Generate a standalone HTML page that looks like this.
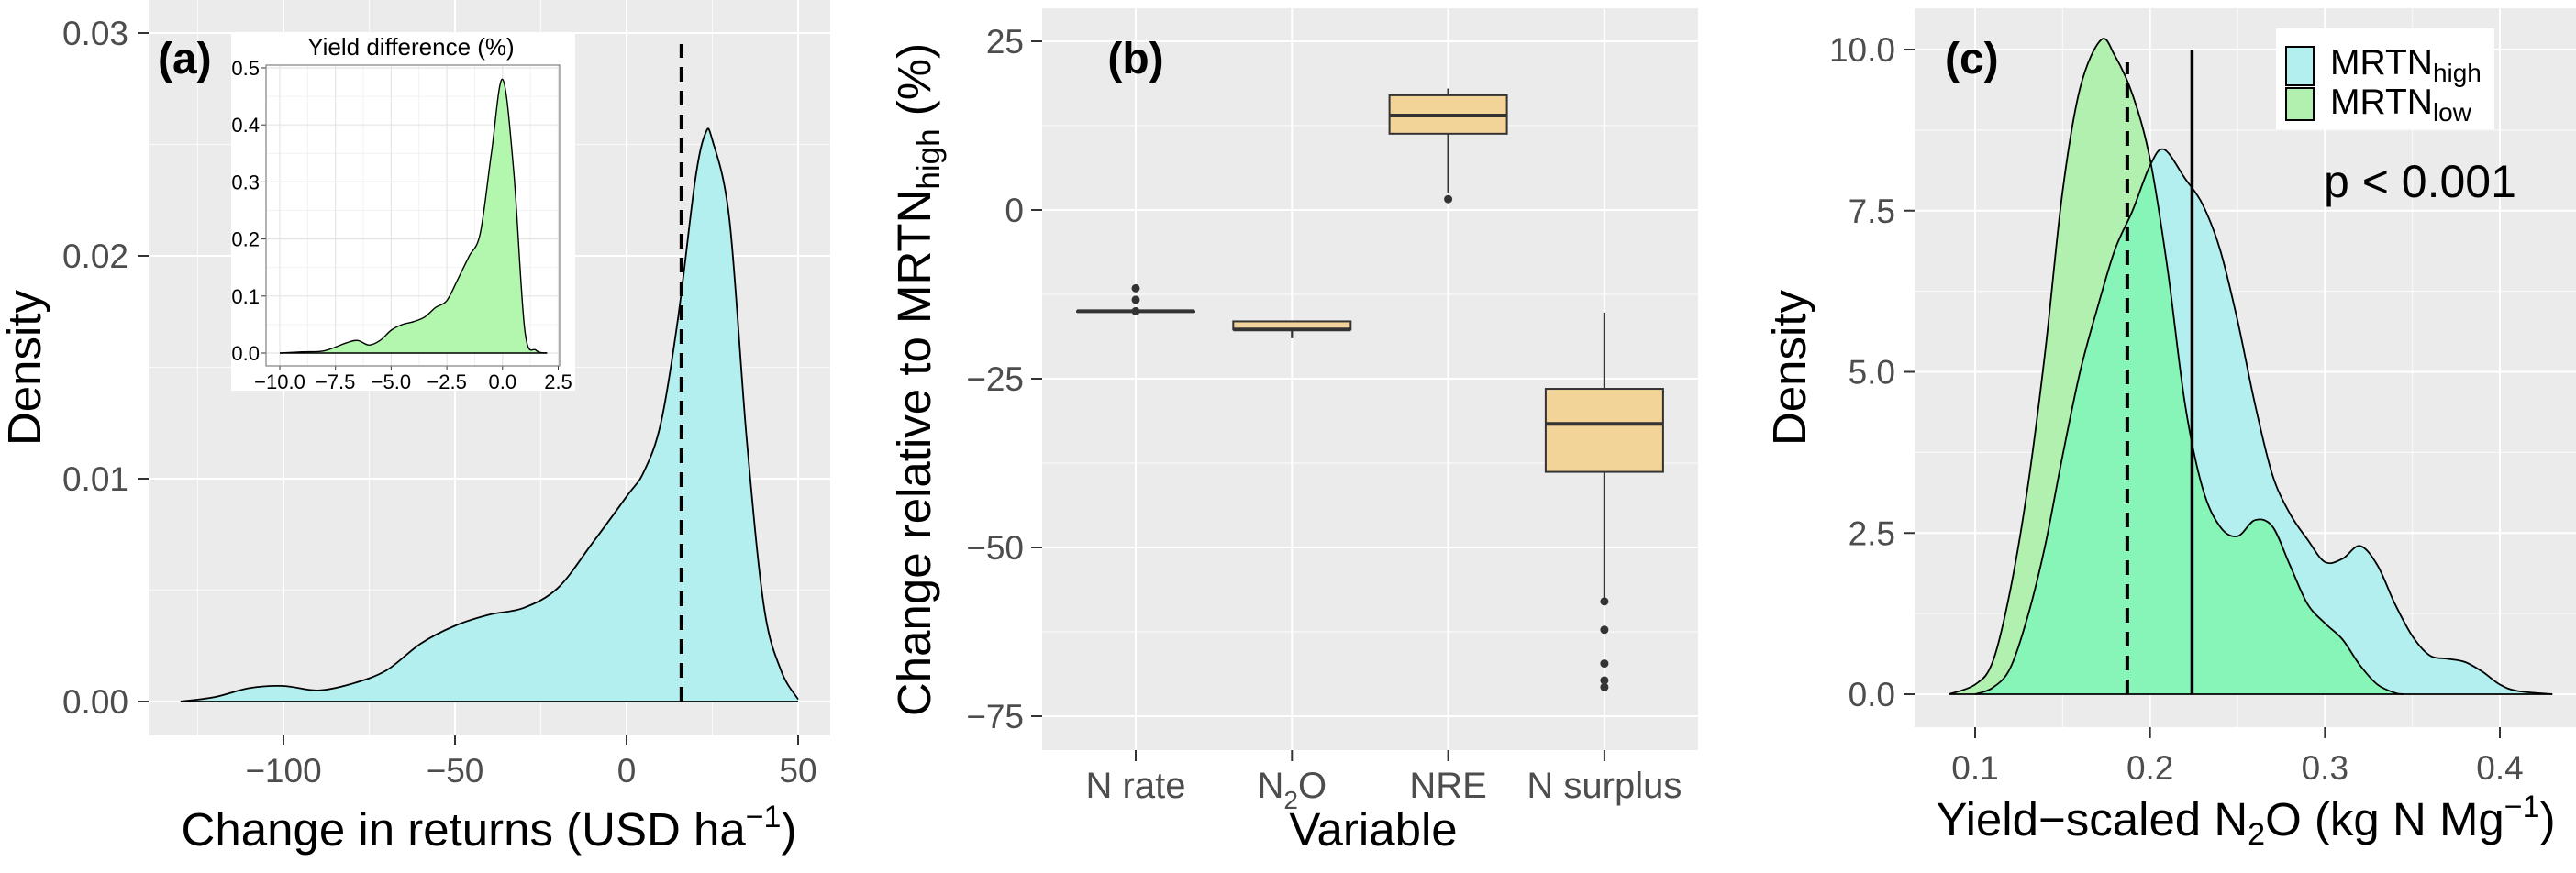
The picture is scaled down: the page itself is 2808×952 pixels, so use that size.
<!DOCTYPE html>
<html><head><meta charset="utf-8"><style>
html,body{margin:0;padding:0;background:#fff;}
svg{display:block;font-family:"Liberation Sans",Arial,sans-serif;}
</style></head><body>
<svg id="s" width="2808" height="952" viewBox="0 0 2808 952" xmlns="http://www.w3.org/2000/svg">
<defs></defs>
</svg>
<script>
// ---- Panel (a) data ----
const aX = [-130,-120,-110,-100,-90,-80,-70,-60,-50,-40,-30,-20,-10,0,5,10,15,20,23,25,30,35,40,45,50];
const aY = [0,0.0002,0.0006,0.0007,0.0005,0.0008,0.0014,0.0026,0.0034,0.0039,0.0042,0.0051,0.0071,0.0092,0.0103,0.0125,0.0172,0.0234,0.0255,0.0252,0.0216,0.0118,0.0043,0.0014,0.0001];
const aMean = 16;
const aXTicks = [-100,-50,0,50];
const aYTicks = [0,0.01,0.02,0.03];
const aYTickLabels = ["0.00","0.01","0.02","0.03"];
// inset
const iX = [-10,-9,-8,-7,-6.5,-6,-5.5,-5,-4.5,-4,-3.5,-3,-2.5,-2,-1.5,-1,-0.5,0,0.5,1,1.5,2];
const iY = [0,0.002,0.004,0.018,0.022,0.014,0.022,0.04,0.05,0.055,0.063,0.08,0.092,0.13,0.17,0.21,0.35,0.48,0.32,0.04,0.005,0];
const iXTicks = [-10,-7.5,-5,-2.5,0,2.5];
const iXTickLabels = ["−10.0","−7.5","−5.0","−2.5","0.0","2.5"];
const iYTicks = [0,0.1,0.2,0.3,0.4,0.5];
const iYTickLabels = ["0.0","0.1","0.2","0.3","0.4","0.5"];
// ---- Panel (b) data ----
const bCats = ["N rate","N2O","NRE","N surplus"];
const bLowWhisker = [-15,-19,2.6,-57.5];
const bQ1 = [-15,-17.7,11.3,-38.8];
const bMedian = [-15,-17.7,14,-31.7];
const bQ3 = [-15,-16.5,17,-26.5];
const bHighWhisker = [-15,-16.5,18,-15.2];
const bOutliers = [[-11.6,-13.3,-15],[],[1.6],[-58,-62.2,-67.2,-69.7,-70.7]];
const bYTicks = [25,0,-25,-50,-75];
const bYTickLabels = ["25","0","−25","−50","−75"];
// ---- Panel (c) data ----
const cLowX = [0.085,0.1,0.11,0.12,0.13,0.14,0.15,0.16,0.172,0.18,0.19,0.2,0.21,0.22,0.23,0.24,0.25,0.26,0.27,0.28,0.29,0.3,0.31,0.32,0.33,0.34,0.345];
const cLowY = [0,0.15,0.5,1.6,3.2,5.3,7.8,9.4,10.15,9.9,9.3,8.3,6.6,4.5,3.2,2.6,2.45,2.7,2.6,2.0,1.4,1.1,0.85,0.45,0.15,0.02,0];
const cHighX = [0.1,0.11,0.12,0.13,0.14,0.15,0.16,0.17,0.18,0.19,0.2,0.208,0.22,0.23,0.24,0.25,0.26,0.27,0.28,0.29,0.3,0.31,0.32,0.33,0.34,0.35,0.36,0.37,0.38,0.39,0.4,0.41,0.43];
const cHighY = [0,0.1,0.4,1.2,2.3,3.7,5.0,6.0,6.9,7.5,8.2,8.45,8.0,7.6,6.9,5.8,4.5,3.4,2.8,2.4,2.05,2.1,2.3,2.0,1.4,0.9,0.6,0.55,0.5,0.35,0.15,0.05,0];
const cLowMean = 0.187, cHighMean = 0.224;
const cXTicks = [0.1,0.2,0.3,0.4];
const cYTicks = [0,2.5,5,7.5,10];
const cYTickLabels = ["0.0","2.5","5.0","7.5","10.0"];

const TF=37;
const NS="http://www.w3.org/2000/svg";
const svg=document.getElementById('s');
function el(tag,attrs,parent){const e=document.createElementNS(NS,tag);for(const k in attrs)e.setAttribute(k,attrs[k]);(parent||svg).appendChild(e);return e;}
function lin(d0,d1,r0,r1){return v=>r0+(v-d0)*(r1-r0)/(d1-d0);}
function smoothPath(xs,ys,sx,sy){
  const p=xs.map((x,i)=>[sx(x),sy(ys[i])]);
  let d=`M${p[0][0]},${p[0][1]}`;
  for(let i=0;i<p.length-1;i++){
    const p0=p[Math.max(0,i-1)],p1=p[i],p2=p[i+1],p3=p[Math.min(p.length-1,i+2)];
    const c1=[p1[0]+(p2[0]-p0[0])/6,p1[1]+(p2[1]-p0[1])/6];
    const c2=[p2[0]-(p3[0]-p1[0])/6,p2[1]-(p3[1]-p1[1])/6];
    d+=` C${c1[0]},${c1[1]} ${c2[0]},${c2[1]} ${p2[0]},${p2[1]}`;
  }
  return d;
}
function txt(x,y,s,attrs,parent){const t=el('text',Object.assign({x:x,y:y},attrs),parent);t.textContent=s;return t;}

// ================= Panel (a) =================
const gA=el('g',{});


const ax=lin(0,50,683,870), ay=lin(0,0.01,765,522);
const aBg=el('rect',{x:162,y:0,width:743,height:802,fill:'#ebebeb'},gA);

[-125,-75,-25,25].forEach(v=>el('line',{x1:ax(v),x2:ax(v),y1:0,y2:802,stroke:'#fff','stroke-width':1.2,opacity:0.7},gA));
[0.005,0.015,0.025].forEach(v=>el('line',{x1:162,x2:905,y1:ay(v),y2:ay(v),stroke:'#fff','stroke-width':1.2,opacity:0.7},gA));
aXTicks.forEach(v=>{el('line',{x1:ax(v),x2:ax(v),y1:0,y2:802,stroke:'#fff','stroke-width':2},gA);
  el('line',{x1:ax(v),x2:ax(v),y1:802,y2:812,stroke:'#333','stroke-width':2},gA);
  const t=txt(ax(v),853,String(v).replace('-','−'),{'font-size':TF,fill:'#4d4d4d','text-anchor':'middle'},gA);
  });
aYTicks.forEach((v,i)=>{el('line',{x1:162,x2:905,y1:ay(v),y2:ay(v),stroke:'#fff','stroke-width':2},gA);
  el('line',{x1:150,x2:162,y1:ay(v),y2:ay(v),stroke:'#333','stroke-width':2},gA);
  const t=txt(140,ay(v)+13,aYTickLabels[i],{'font-size':TF,fill:'#4d4d4d','text-anchor':'end'},gA);
  });
const aArea=el('path',{d:smoothPath(aX,aY,ax,ay)+` L${ax(50)},${ay(0)} L${ax(-130)},${ay(0)} Z`,fill:'#b3efef',stroke:'none'},gA);

const aLine=el('path',{d:smoothPath(aX,aY,ax,ay),fill:'none',stroke:'#000','stroke-width':1.8},gA);

el('line',{x1:ax(-130),x2:ax(50),y1:ay(0),y2:ay(0),stroke:'#000','stroke-width':1.8},gA);
const aMeanL=el('line',{x1:ax(aMean),x2:ax(aMean),y1:ay(0),y2:48,stroke:'#000','stroke-width':4,'stroke-dasharray':'16,10'},gA);

const aLab=txt(172,80,'(a)',{'font-size':48,'font-weight':'bold',fill:'#000'},gA);

const aYT=txt(0,0,'Density',{'font-size':51,fill:'#000','text-anchor':'middle',transform:'translate(44,401) rotate(-90)'},gA);

const aXT=el('text',{x:533,y:922,'font-size':51,fill:'#000','text-anchor':'middle'},gA);
aXT.innerHTML='Change in returns (USD ha<tspan font-size="34" dy="-20">−1</tspan><tspan dy="20">)</tspan>';


// inset
const gI=el('g',{},gA);

el('rect',{x:252,y:37,width:375,height:389,fill:'#fff'},gI);
const ix=lin(-10,2.5,305,608.5), iy=lin(0,0.5,385,74);
[-8.75,-6.25,-3.75,-1.25,1.25].forEach(v=>el('line',{x1:ix(v),x2:ix(v),y1:71,y2:399,stroke:'#f2f2f2','stroke-width':1},gI));
[0.05,0.15,0.25,0.35,0.45].forEach(v=>el('line',{x1:290,x2:610,y1:iy(v),y2:iy(v),stroke:'#f2f2f2','stroke-width':1},gI));
iXTicks.forEach((v,i)=>{el('line',{x1:ix(v),x2:ix(v),y1:71,y2:399,stroke:'#e5e5e5','stroke-width':1.2},gI);
  el('line',{x1:ix(v),x2:ix(v),y1:399,y2:404,stroke:'#333','stroke-width':1},gI);
  txt(ix(v),424,iXTickLabels[i],{'font-size':22,fill:'#000','text-anchor':'middle'},gI);});
iYTicks.forEach((v,i)=>{el('line',{x1:290,x2:610,y1:iy(v),y2:iy(v),stroke:'#e5e5e5','stroke-width':1.2},gI);
  el('line',{x1:285,x2:290,y1:iy(v),y2:iy(v),stroke:'#333','stroke-width':1},gI);
  txt(283,iy(v)+8,iYTickLabels[i],{'font-size':22,fill:'#000','text-anchor':'end'},gI);});
const iArea=el('path',{d:smoothPath(iX,iY,ix,iy)+` L${ix(2)},${iy(0)} L${ix(-10)},${iy(0)} Z`,fill:'#b2f7ad'},gI);

el('path',{d:smoothPath(iX,iY,ix,iy),fill:'none',stroke:'#000','stroke-width':1.4},gI);
el('line',{x1:ix(-10),x2:ix(2),y1:iy(0),y2:iy(0),stroke:'#000','stroke-width':1.4},gI);
el('rect',{x:290,y:71,width:320,height:328,fill:'none',stroke:'#7f7f7f','stroke-width':1.2},gI);
const iT=txt(448,60,'Yield difference (%)',{'font-size':26,fill:'#000','text-anchor':'middle'},gI);


// ================= Panel (b) =================
const gB=el('g',{});

const by=lin(0,25,229,45);
const bx=i=>1238+i*170.3;
el('rect',{x:1136,y:9,width:715,height:809,fill:'#ebebeb'},gB);
[12.5,-12.5,-37.5,-62.5].forEach(v=>el('line',{x1:1136,x2:1851,y1:by(v),y2:by(v),stroke:'#fff','stroke-width':1.2,opacity:0.7},gB));
bYTicks.forEach((v,i)=>{el('line',{x1:1136,x2:1851,y1:by(v),y2:by(v),stroke:'#fff','stroke-width':2},gB);
  el('line',{x1:1124,x2:1136,y1:by(v),y2:by(v),stroke:'#333','stroke-width':2},gB);
  const t=txt(1116,by(v)+13,bYTickLabels[i],{'font-size':TF,fill:'#4d4d4d','text-anchor':'end'},gB);
  });
bCats.forEach((c,i)=>{const x=bx(i);
  el('line',{x1:x,x2:x,y1:9,y2:818,stroke:'#fff','stroke-width':2},gB);
  el('line',{x1:x,x2:x,y1:818,y2:830,stroke:'#333','stroke-width':2},gB);
  const t=el('text',{x:x,y:870,'font-size':40,fill:'#4d4d4d','text-anchor':'middle'},gB);
  if(c==='N2O'){t.innerHTML='N<tspan font-size="28" dy="12">2</tspan><tspan dy="-12">O</tspan>';}else t.textContent=c;
  
  const g=el('g',{},gB);
  
  el('line',{x1:x,x2:x,y1:by(bHighWhisker[i]),y2:by(bQ3[i]),stroke:'#333','stroke-width':2.2},g);
  el('line',{x1:x,x2:x,y1:by(bQ1[i]),y2:by(bLowWhisker[i]),stroke:'#333','stroke-width':2.2},g);
  el('rect',{x:x-64,y:by(bQ3[i]),width:128,height:Math.max(0.5,by(bQ1[i])-by(bQ3[i])),fill:'#f2d398',stroke:'#333','stroke-width':2},g);
  el('line',{x1:x-64,x2:x+64,y1:by(bMedian[i]),y2:by(bMedian[i]),stroke:'#333','stroke-width':4},g);
  bOutliers[i].forEach(o=>{const c2=el('circle',{cx:x,cy:by(o),r:4.5,fill:'#333'},g);
    });
});
const bLab=txt(1238,80,'(b)',{'font-size':48,'font-weight':'bold',fill:'#000','text-anchor':'middle'},gB);

const bYT=el('text',{'font-size':51,fill:'#000','text-anchor':'middle',transform:'translate(1014,414) rotate(-90)'},gB);
bYT.innerHTML='Change relative to MRTN<tspan font-size="35" dy="10">high</tspan><tspan dy="-10"> (%)</tspan>';

const bXT=txt(1497,922,'Variable',{'font-size':51,fill:'#000','text-anchor':'middle'},gB);


// ================= Panel (c) =================
const gC=el('g',{});

const cx=lin(0.1,0.4,2153,2725), cy=lin(0,10,757,54);
el('rect',{x:2087,y:9,width:721,height:784,fill:'#ebebeb'},gC);
[0.15,0.25,0.35].forEach(v=>el('line',{x1:cx(v),x2:cx(v),y1:9,y2:793,stroke:'#fff','stroke-width':1.2,opacity:0.7},gC));
[1.25,3.75,6.25,8.75].forEach(v=>el('line',{x1:2087,x2:2808,y1:cy(v),y2:cy(v),stroke:'#fff','stroke-width':1.2,opacity:0.7},gC));
cXTicks.forEach(v=>{el('line',{x1:cx(v),x2:cx(v),y1:9,y2:793,stroke:'#fff','stroke-width':2},gC);
  el('line',{x1:cx(v),x2:cx(v),y1:793,y2:805,stroke:'#333','stroke-width':2},gC);
  const t=txt(cx(v),850,String(v),{'font-size':TF,fill:'#4d4d4d','text-anchor':'middle'},gC);
  });
cYTicks.forEach((v,i)=>{el('line',{x1:2087,x2:2808,y1:cy(v),y2:cy(v),stroke:'#fff','stroke-width':2},gC);
  el('line',{x1:2075,x2:2087,y1:cy(v),y2:cy(v),stroke:'#333','stroke-width':2},gC);
  const t=txt(2066,cy(v)+13,cYTickLabels[i],{'font-size':TF,fill:'#4d4d4d','text-anchor':'end'},gC);
  });
const highD=smoothPath(cHighX,cHighY,cx,cy), lowD=smoothPath(cLowX,cLowY,cx,cy);
const highArea=highD+` L${cx(cHighX[cHighX.length-1])},${cy(0)} L${cx(cHighX[0])},${cy(0)} Z`;
const lowArea=lowD+` L${cx(cLowX[cLowX.length-1])},${cy(0)} L${cx(cLowX[0])},${cy(0)} Z`;
const defs=svg.querySelector('defs');
const cp=el('clipPath',{id:'clipHigh'},defs);el('path',{d:highArea},cp);
const hA=el('path',{d:highArea,fill:'#b3efef'},gC);

const lA=el('path',{d:lowArea,fill:'#b2f0b0'},gC);

el('path',{d:lowArea,fill:'#88f5b8','clip-path':'url(#clipHigh)'},gC);
el('path',{d:highD,fill:'none',stroke:'#000','stroke-width':1.8},gC);
el('path',{d:lowD,fill:'none',stroke:'#000','stroke-width':1.8},gC);
el('line',{x1:cx(0.085),x2:cx(0.43),y1:cy(0),y2:cy(0),stroke:'#000','stroke-width':1.8},gC);
const dl=el('line',{x1:cx(cLowMean),x2:cx(cLowMean),y1:cy(0),y2:cy(9.8),stroke:'#000','stroke-width':4,'stroke-dasharray':'16,10'},gC);

const sl=el('line',{x1:cx(cHighMean),x2:cx(cHighMean),y1:cy(0),y2:cy(10),stroke:'#000','stroke-width':3.5},gC);

const cLab=txt(2120,80,'(c)',{'font-size':48,'font-weight':'bold',fill:'#000'},gC);

const pv=txt(2533,215,'p < 0.001',{'font-size':50,fill:'#000'},gC);

const lg=el('g',{},gC);

el('rect',{x:2481,y:31,width:238,height:110,fill:'#fff'},lg);
const k1=el('rect',{x:2492,y:51,width:30,height:42,fill:'#b3efef',stroke:'#000','stroke-width':2},lg);

const k2=el('rect',{x:2492,y:96,width:30,height:35,fill:'#b2f0b0',stroke:'#000','stroke-width':2},lg);

const l1=el('text',{x:2540,y:81,'font-size':39,fill:'#000'},lg);
l1.innerHTML='MRTN<tspan font-size="28" dy="8">high</tspan>';
const l2=el('text',{x:2540,y:124,'font-size':39,fill:'#000'},lg);
l2.innerHTML='MRTN<tspan font-size="28" dy="8">low</tspan>';
const cYT=txt(0,0,'Density',{'font-size':51,fill:'#000','text-anchor':'middle',transform:'translate(1968,401) rotate(-90)'},gC);

const cXT=el('text',{x:2448,y:911,'font-size':51,fill:'#000','text-anchor':'middle'},gC);
cXT.innerHTML='Yield−scaled N<tspan font-size="34" dy="10">2</tspan><tspan dy="-10">O (kg N Mg</tspan><tspan font-size="34" dy="-20">−1</tspan><tspan dy="20">)</tspan>';

</script>
</body></html>
